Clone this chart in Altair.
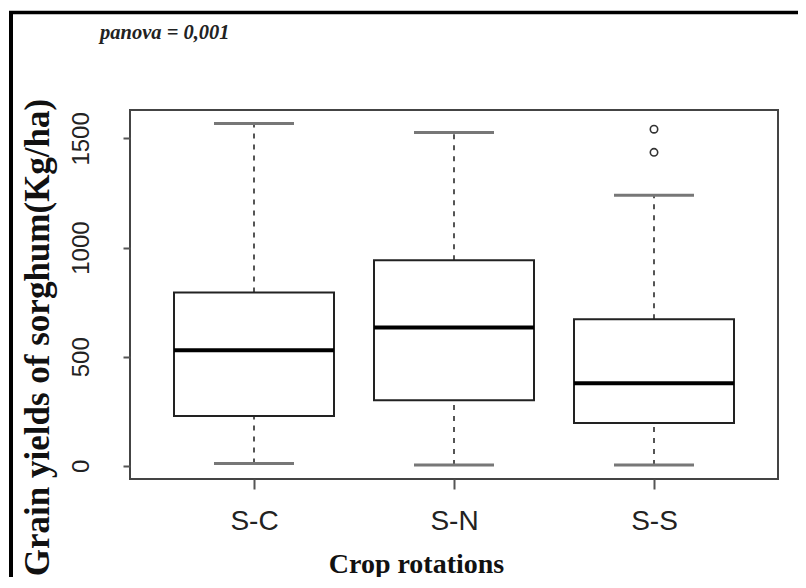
import altair as alt
import pandas as pd

# Box-plot statistics (grain yield, kg/ha)
rotations = ["S-C", "S-N", "S-S"]
lower_whisker = [11, 4, 4]
q1 = [229, 301, 196]
median = [530, 634, 379]
q3 = [794, 942, 672]
upper_whisker = [1568, 1527, 1240]
outlier_group = ["S-S", "S-S"]
outlier_value = [1542, 1436]

y_ticks = [0, 500, 1000, 1500]
annotation = "panova = 0,001"

stats = pd.DataFrame({
    "rotation": rotations,
    "lo": lower_whisker,
    "q1": q1,
    "med": median,
    "q3": q3,
    "hi": upper_whisker,
})
outliers = pd.DataFrame({"rotation": outlier_group, "value": outlier_value})

xscale = alt.Scale(type="point", domain=rotations, padding=0.62)
yscale = alt.Scale(domain=[-60, 1630], nice=False, zero=False)

x_axis = alt.Axis(
    title="Crop rotations",
    titleFont="Liberation Serif", titleFontWeight="bold", titleFontSize=28,
    titleColor="#111", titleX=286, titleY=93, titleAlign="center",
    titleBaseline="alphabetic", titleAnchor="start",
    labelFont="Liberation Sans", labelFontSize=28, labelColor="#222",
    labelAngle=0, labelBaseline="alphabetic", labelPadding=40,
    tickSize=10, tickColor="#555", tickWidth=2, domain=False, grid=False,
)
y_axis = alt.Axis(
    title="Grain yields of sorghum(Kg/ha)",
    titleFont="Liberation Serif", titleFontWeight="bold", titleFontSize=35,
    titleColor="#111", titleAngle=270, titleX=-82, titleY=227,
    titleAlign="center", titleBaseline="alphabetic", titleAnchor="start",
    values=y_ticks, format="d", labelFont="Liberation Sans", labelFontSize=24,
    labelColor="#222", labelAngle=270, labelAlign="center",
    labelBaseline="alphabetic", labelPadding=35,
    tickSize=7, tickColor="#555", tickWidth=2, domain=False, grid=False,
)

base = alt.Chart(stats)

whisk_hi = base.mark_rule(color="#555", strokeWidth=2, strokeDash=[5, 6]).encode(
    x=alt.X("rotation:N", scale=xscale, axis=x_axis),
    y=alt.Y("q3:Q", scale=yscale, axis=y_axis),
    y2="hi:Q",
)
whisk_lo = base.mark_rule(color="#555", strokeWidth=2, strokeDash=[5, 6]).encode(
    x=alt.X("rotation:N", scale=xscale),
    y=alt.Y("lo:Q", scale=yscale),
    y2="q1:Q",
)
caps_hi = base.mark_tick(color="#777", size=80, thickness=3, opacity=1).encode(
    x=alt.X("rotation:N", scale=xscale), y=alt.Y("hi:Q", scale=yscale)
)
caps_lo = base.mark_tick(color="#777", size=80, thickness=3, opacity=1).encode(
    x=alt.X("rotation:N", scale=xscale), y=alt.Y("lo:Q", scale=yscale)
)
boxes = base.mark_bar(size=160, fill="white", stroke="#222", strokeWidth=2, opacity=1).encode(
    x=alt.X("rotation:N", scale=xscale),
    y=alt.Y("q1:Q", scale=yscale),
    y2="q3:Q",
)
medians = base.mark_tick(color="black", size=160, thickness=4, opacity=1).encode(
    x=alt.X("rotation:N", scale=xscale), y=alt.Y("med:Q", scale=yscale)
)
points = alt.Chart(outliers).mark_point(
    shape="circle", filled=False, size=55, color="#333", strokeWidth=1.6, opacity=1
).encode(x=alt.X("rotation:N", scale=xscale), y=alt.Y("value:Q", scale=yscale))

frame_df = pd.DataFrame({"f": [0]})
frame_top = alt.Chart(frame_df).mark_rule(color="black", strokeWidth=3.5).encode(
    x=alt.value(-121), x2=alt.value(680), y=alt.value(-97.5)
)
frame_left = alt.Chart(frame_df).mark_rule(color="black", strokeWidth=4).encode(
    x=alt.value(-119), y=alt.value(-99), y2=alt.value(480)
)
note = alt.Chart(frame_df).mark_text(
    font="Liberation Serif", fontStyle="italic", fontWeight="bold", fontSize=20.5,
    color="#222", align="left", baseline="alphabetic",
).encode(x=alt.value(-30), y=alt.value(-71), text=alt.value(annotation))

chart = alt.layer(
    frame_top, frame_left, note, whisk_hi, whisk_lo, caps_hi, caps_lo, boxes, medians, points
).properties(
    width=648,
    height=369,
    background="white",
    autosize=alt.AutoSizeParams(type="none"),
    padding={"left": 122, "top": 102, "right": 20, "bottom": 98},
).configure_view(stroke="#444", strokeWidth=2)

chart.save("out.html", embed_options={"renderer": "svg", "actions": False})
